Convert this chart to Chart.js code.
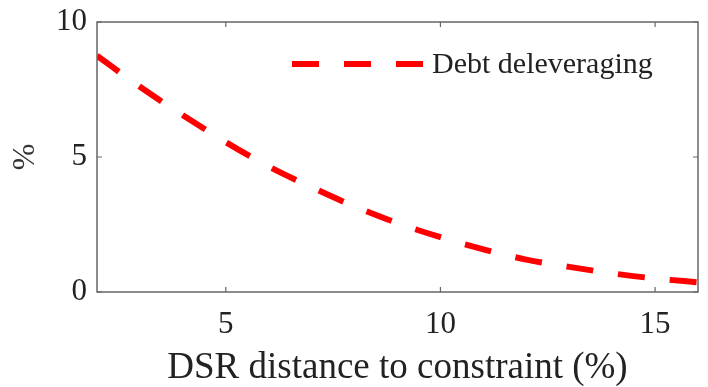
<!DOCTYPE html>
<html lang="en">
  <head>
    <meta charset="UTF-8" />
    <title>Debt deleveraging</title>
    <script src="https://cdn.jsdelivr.net/npm/chart.js@4.4.0/dist/chart.umd.min.js"></script>
    <style>
      body { margin: 0; background: #fff; }
    </style>
  </head>
  <body>
    <canvas id="myChart" width="708" height="387"></canvas>

    <script>
      // DSR distance (x) and debt deleveraging (%)
      const dsrDistance = [2, 3, 4, 5, 6, 7, 8, 9, 10, 11, 12, 13, 14, 15, 16];
      const deleveraging = [8.75, 7.6, 6.55, 5.55, 4.65, 3.88, 3.17, 2.55, 2.03, 1.58, 1.2, 0.93, 0.69, 0.5, 0.36];

      // tick labels
      const xTicks = [5, 10, 15];
      const yTicks = [0, 5, 10];

      const seriesName = 'Debt deleveraging';
      const xTitle = 'DSR distance to constraint (%)';
      const yTitle = '%';

      const serif = "'Liberation Serif', 'Times New Roman', serif";

      // frame round the plot, with small ticks pointing inward
      const framePlugin = {
        id: 'frame',
        afterDraw(chart) {
          const { ctx, chartArea: a, scales } = chart;
          ctx.save();
          ctx.strokeStyle = '#666';
          ctx.lineWidth = 1.5;
          ctx.strokeRect(a.left, a.top, a.right - a.left, a.bottom - a.top);
          ctx.lineWidth = 1.2;
          ctx.beginPath();
          xTicks.forEach(v => {
            const px = scales.x.getPixelForValue(v);
            ctx.moveTo(px, a.bottom); ctx.lineTo(px, a.bottom - 5);
            ctx.moveTo(px, a.top); ctx.lineTo(px, a.top + 5);
          });
          yTicks.forEach(v => {
            const py = scales.y.getPixelForValue(v);
            ctx.moveTo(a.left, py); ctx.lineTo(a.left + 5, py);
            ctx.moveTo(a.right, py); ctx.lineTo(a.right - 5, py);
          });
          ctx.stroke();
          ctx.restore();
        }
      };

      // legend inside the plot, top right, no box
      const insideLegend = {
        id: 'insideLegend',
        afterDraw(chart) {
          const { ctx, chartArea: a } = chart;
          const ds = chart.data.datasets[0];
          const x0 = a.right - 406;
          const y0 = a.top + 42;
          ctx.save();
          ctx.strokeStyle = ds.borderColor;
          ctx.lineWidth = ds.borderWidth;
          ctx.setLineDash(ds.borderDash);
          ctx.beginPath();
          ctx.moveTo(x0, y0);
          ctx.lineTo(x0 + 131, y0);
          ctx.stroke();
          ctx.setLineDash([]);
          ctx.fillStyle = '#222';
          ctx.font = '30px ' + serif;
          ctx.textBaseline = 'middle';
          ctx.fillText(ds.label, x0 + 140, y0 + 1);
          ctx.restore();
        }
      };

      const config = {
        type: 'line',
        data: {
          datasets: [{
            label: seriesName,
            data: dsrDistance.map((x, i) => ({ x: x, y: deleveraging[i] })),
            borderColor: '#ff0000',
            backgroundColor: '#ff0000',
            borderWidth: 6,
            borderDash: [27, 25],
            pointRadius: 0,
            cubicInterpolationMode: 'monotone',
            fill: false
          }]
        },
        options: {
          responsive: false,
          animation: false,
          layout: { autoPadding: false, padding: { top: 22, right: 10, left: 0, bottom: 0 } },
          scales: {
            x: {
              type: 'linear',
              min: 2,
              max: 16,
              afterBuildTicks: s => { s.ticks = xTicks.map(v => ({ value: v })); },
              afterFit: s => { s.height = 95; s.paddingLeft = 0; s.paddingRight = 0; },
              grid: { display: false, drawTicks: false },
              border: { display: false },
              ticks: { padding: 14, color: '#222', font: { family: serif, size: 31 } },
              title: {
                display: true,
                text: xTitle,
                color: '#222',
                padding: { top: 0, bottom: -3 },
                font: { family: serif, size: 37 }
              }
            },
            y: {
              min: 0,
              max: 10,
              afterBuildTicks: s => { s.ticks = yTicks.map(v => ({ value: v })); },
              afterFit: s => { s.width = 97; s.paddingTop = 0; s.paddingBottom = 0; },
              grid: { display: false, drawTicks: false },
              border: { display: false },
              ticks: { padding: 10, color: '#222', font: { family: serif, size: 31 } },
              title: {
                display: true,
                text: yTitle,
                color: '#333',
                padding: { top: 6, bottom: 0 },
                font: { family: serif, size: 32 }
              }
            }
          },
          plugins: {
            tooltip: { enabled: false },
            legend: { display: false }
          }
        },
        plugins: [framePlugin, insideLegend]
      };

      const myChart = new Chart(document.getElementById('myChart'), config);
    </script>
  </body>
</html>
